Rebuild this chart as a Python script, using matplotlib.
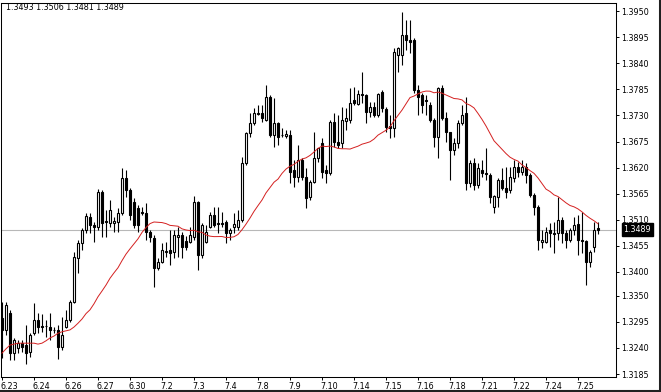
import numpy as np
import pandas as pd
import matplotlib
matplotlib.use('Agg')
import matplotlib.pyplot as plt
import matplotlib.transforms as mtransforms
from matplotlib.lines import Line2D

# 4h EURUSD-style bars
opens = [1.3303, 1.3278, 1.3314, 1.3229, 1.3240, 1.3250, 1.3246, 1.3231, 1.3271, 1.3299,
         1.3286, 1.3286, 1.3284, 1.3278, 1.3278, 1.3242, 1.3284, 1.3299, 1.3337, 1.3429,
         1.3461, 1.3489, 1.3516, 1.3499, 1.3495, 1.3569, 1.3507, 1.3503, 1.3503, 1.3505,
         1.3524, 1.3598, 1.3573, 1.3547, 1.3535, 1.3526, 1.3524, 1.3484, 1.3472, 1.3408,
         1.3421, 1.3442, 1.3446, 1.3442, 1.3474, 1.3478, 1.3465, 1.3463, 1.3474, 1.3547,
         1.3436, 1.3463, 1.3495, 1.3520, 1.3503, 1.3503, 1.3505, 1.3482, 1.3495, 1.3495,
         1.3510, 1.3630, 1.3693, 1.3714, 1.3735, 1.3735, 1.3720, 1.3769, 1.3689, 1.3714,
         1.3689, 1.3687, 1.3689, 1.3615, 1.3600, 1.3636, 1.3600, 1.3558, 1.3590, 1.3640,
         1.3672, 1.3615, 1.3609, 1.3716, 1.3674, 1.3672, 1.3718, 1.3720, 1.3762, 1.3754,
         1.3775, 1.3773, 1.3737, 1.3748, 1.3731, 1.3779, 1.3744, 1.3708, 1.3703, 1.3857,
         1.3857, 1.3899, 1.3889, 1.3889, 1.3784, 1.3773, 1.3762, 1.3752, 1.3720, 1.3685,
         1.3788, 1.3725, 1.3695, 1.3657, 1.3672, 1.3714, 1.3735, 1.3588, 1.3630, 1.3583,
         1.3615, 1.3609, 1.3604, 1.3537, 1.3558, 1.3594, 1.3577, 1.3573, 1.3598, 1.3621,
         1.3611, 1.3621, 1.3604, 1.3562, 1.3537, 1.3463, 1.3463, 1.3489, 1.3482, 1.3482,
         1.3510, 1.3482, 1.3467, 1.3489, 1.3501, 1.3467, 1.3465, 1.3421, 1.3453, 1.3493]
highs = [1.3337, 1.3337, 1.3320, 1.3261, 1.3257, 1.3257, 1.3288, 1.3271, 1.3335, 1.3314,
         1.3311, 1.3299, 1.3314, 1.3284, 1.3288, 1.3305, 1.3320, 1.3341, 1.3442, 1.3467,
         1.3493, 1.3524, 1.3524, 1.3505, 1.3575, 1.3573, 1.3531, 1.3552, 1.3516, 1.3535,
         1.3619, 1.3615, 1.3577, 1.3556, 1.3541, 1.3537, 1.3545, 1.3489, 1.3478, 1.3429,
         1.3461, 1.3463, 1.3489, 1.3489, 1.3495, 1.3484, 1.3476, 1.3495, 1.3560, 1.3550,
         1.3503, 1.3499, 1.3526, 1.3537, 1.3537, 1.3526, 1.3510, 1.3493, 1.3524, 1.3531,
         1.3642, 1.3695, 1.3735, 1.3746, 1.3752, 1.3752, 1.3794, 1.3773, 1.3767, 1.3716,
         1.3703, 1.3699, 1.3699, 1.3636, 1.3668, 1.3640, 1.3619, 1.3594, 1.3695, 1.3661,
         1.3682, 1.3625, 1.3720, 1.3735, 1.3731, 1.3748, 1.3746, 1.3788, 1.3790, 1.3784,
         1.3821, 1.3775, 1.3758, 1.3758, 1.3777, 1.3784, 1.3748, 1.3731, 1.3872, 1.3874,
         1.3948, 1.3931, 1.3931, 1.3893, 1.3794, 1.3777, 1.3773, 1.3758, 1.3725, 1.3790,
         1.3794, 1.3737, 1.3695, 1.3682, 1.3720, 1.3752, 1.3769, 1.3636, 1.3640, 1.3630,
         1.3636, 1.3661, 1.3609, 1.3562, 1.3598, 1.3619, 1.3621, 1.3621, 1.3636, 1.3632,
         1.3636, 1.3630, 1.3609, 1.3566, 1.3541, 1.3489, 1.3495, 1.3503, 1.3505, 1.3558,
         1.3516, 1.3489, 1.3493, 1.3516, 1.3520, 1.3526, 1.3467, 1.3446, 1.3505, 1.3506]
lows = [1.3219, 1.3267, 1.3215, 1.3215, 1.3229, 1.3231, 1.3206, 1.3221, 1.3267, 1.3271,
        1.3274, 1.3263, 1.3257, 1.3271, 1.3217, 1.3236, 1.3282, 1.3295, 1.3335, 1.3398,
        1.3446, 1.3482, 1.3482, 1.3463, 1.3489, 1.3474, 1.3474, 1.3495, 1.3484, 1.3484,
        1.3520, 1.3558, 1.3510, 1.3493, 1.3484, 1.3520, 1.3467, 1.3463, 1.3368, 1.3404,
        1.3419, 1.3432, 1.3415, 1.3429, 1.3432, 1.3429, 1.3446, 1.3461, 1.3467, 1.3404,
        1.3429, 1.3461, 1.3493, 1.3495, 1.3482, 1.3495, 1.3461, 1.3467, 1.3482, 1.3489,
        1.3505, 1.3625, 1.3685, 1.3710, 1.3731, 1.3716, 1.3718, 1.3685, 1.3663, 1.3668,
        1.3685, 1.3682, 1.3588, 1.3579, 1.3590, 1.3594, 1.3535, 1.3552, 1.3588, 1.3632,
        1.3598, 1.3588, 1.3604, 1.3663, 1.3661, 1.3661, 1.3699, 1.3714, 1.3752, 1.3752,
        1.3756, 1.3714, 1.3727, 1.3727, 1.3727, 1.3737, 1.3695, 1.3682, 1.3685, 1.3821,
        1.3836, 1.3868, 1.3862, 1.3777, 1.3731, 1.3735, 1.3731, 1.3716, 1.3663, 1.3640,
        1.3720, 1.3674, 1.3594, 1.3647, 1.3661, 1.3710, 1.3573, 1.3579, 1.3573, 1.3577,
        1.3600, 1.3594, 1.3545, 1.3524, 1.3537, 1.3573, 1.3556, 1.3566, 1.3590, 1.3600,
        1.3604, 1.3588, 1.3558, 1.3520, 1.3446, 1.3451, 1.3461, 1.3453, 1.3440, 1.3467,
        1.3461, 1.3451, 1.3463, 1.3478, 1.3436, 1.3440, 1.3373, 1.3411, 1.3442, 1.3481]
closes = [1.3278, 1.3330, 1.3229, 1.3257, 1.3250, 1.3242, 1.3229, 1.3267, 1.3299, 1.3284,
          1.3285, 1.3286, 1.3278, 1.3277, 1.3242, 1.3267, 1.3299, 1.3337, 1.3432, 1.3461,
          1.3489, 1.3518, 1.3499, 1.3495, 1.3569, 1.3503, 1.3505, 1.3531, 1.3507, 1.3524,
          1.3598, 1.3573, 1.3520, 1.3499, 1.3499, 1.3525, 1.3484, 1.3474, 1.3408, 1.3421,
          1.3446, 1.3444, 1.3440, 1.3478, 1.3478, 1.3453, 1.3453, 1.3478, 1.3547, 1.3436,
          1.3499, 1.3484, 1.3520, 1.3499, 1.3501, 1.3502, 1.3482, 1.3489, 1.3501, 1.3510,
          1.3630, 1.3693, 1.3714, 1.3735, 1.3734, 1.3725, 1.3769, 1.3689, 1.3714, 1.3685,
          1.3688, 1.3691, 1.3611, 1.3600, 1.3636, 1.3600, 1.3556, 1.3590, 1.3640, 1.3661,
          1.3611, 1.3609, 1.3716, 1.3674, 1.3668, 1.3720, 1.3725, 1.3756, 1.3756, 1.3775,
          1.3774, 1.3737, 1.3748, 1.3731, 1.3775, 1.3746, 1.3706, 1.3703, 1.3864, 1.3872,
          1.3899, 1.3889, 1.3885, 1.3784, 1.3769, 1.3752, 1.3761, 1.3720, 1.3685, 1.3788,
          1.3725, 1.3695, 1.3657, 1.3672, 1.3714, 1.3731, 1.3588, 1.3630, 1.3583, 1.3619,
          1.3609, 1.3607, 1.3558, 1.3560, 1.3594, 1.3577, 1.3569, 1.3600, 1.3621, 1.3611,
          1.3621, 1.3604, 1.3562, 1.3537, 1.3467, 1.3467, 1.3484, 1.3482, 1.3481, 1.3510,
          1.3482, 1.3467, 1.3489, 1.3499, 1.3467, 1.3465, 1.3421, 1.3442, 1.3489, 1.3489]

# MA values for the first 20 bars (its history lies left of the window)
ma_head = [1.3229, 1.3238, 1.3246, 1.3248, 1.3250, 1.3250, 1.3250, 1.3250, 1.3250, 1.3248,
           1.3250, 1.3255, 1.3261, 1.3265, 1.3271, 1.3274, 1.3276, 1.3278, 1.3284, 1.3292]
ma_period = 21

date_labels = ['6.23', '6.24', '6.26', '6.27', '6.30', '7.2', '7.3', '7.4', '7.8', '7.9',
               '7.10', '7.14', '7.15', '7.16', '7.18', '7.21', '7.22', '7.24', '7.25']
price_ticks = [1.3950, 1.3895, 1.3840, 1.3785, 1.3730, 1.3675, 1.3620, 1.3565,
               1.3510, 1.3455, 1.3400, 1.3350, 1.3295, 1.3240, 1.3185]
last_ohlc = [1.3493, 1.3506, 1.3481, 1.3489]

o = np.array(opens); h = np.array(highs); l = np.array(lows); c = np.array(closes)
x = np.arange(len(c))
ma = pd.Series(c).rolling(ma_period).mean().to_numpy()
ma[:len(ma_head)] = ma_head

W, H = 661, 392
fig = plt.figure(figsize=(W / 100, H / 100), dpi=100)
fig.patch.set_facecolor('white')
ax = fig.add_axes([1 / W, 15 / H, 615 / W, 374 / H])
ax.set_facecolor('white')

ax.axhline(last_ohlc[3], color='#b8b8b8', lw=0.8, zorder=1)

ax.vlines(x, l, h, color='black', lw=0.8, zorder=2)
up = c >= o
lo = np.minimum(o, c)
ht = np.abs(c - o)
ax.bar(x[up], ht[up], bottom=lo[up], width=0.5, facecolor='white',
       edgecolor='black', linewidth=0.8, zorder=3)
ax.bar(x[~up], ht[~up], bottom=lo[~up], width=0.5, facecolor='black',
       edgecolor='black', linewidth=0.8, zorder=3)

ax.plot(x, ma, color='#d42020', lw=0.7, zorder=4)

ax.set_xlim(-0.25, 153.5)
ax.set_ylim(1.31787, 1.39669)

for s in ax.spines.values():
    s.set_linewidth(0.75)
    s.set_color('black')

ax.yaxis.tick_right()
ax.set_yticks(price_ticks)
ax.set_yticklabels([f'{v:.4f}' for v in price_ticks])
ax.tick_params(axis='y', direction='out', length=2.2, width=0.7, pad=1.5,
               labelsize=5.8, colors='black')

ax.set_xticks(np.arange(0, len(c), 8)[:len(date_labels)])
ax.set_xticklabels(date_labels)
ax.tick_params(axis='x', direction='out', length=2.2, width=0.7, pad=1.5,
               labelsize=5.8, colors='black')
shift = mtransforms.ScaledTranslation(-1.5 / 100, 0, fig.dpi_scale_trans)
for lbl in ax.get_xticklabels():
    lbl.set_horizontalalignment('left')
    lbl.set_transform(lbl.get_transform() + shift)

# current price tag on the price scale
ax.annotate(f'{last_ohlc[3]:.4f}', xy=(1, last_ohlc[3]),
            xycoords=('axes fraction', 'data'), xytext=(5.5, 0),
            textcoords='offset points', va='center', ha='left',
            fontsize=5.8, color='white',
            bbox=dict(boxstyle='square,pad=0.25', fc='black', ec='black'))

fig.text(6 / W, 1 - 2.5 / H, ' '.join(f'{v:.4f}' for v in last_ohlc),
         fontsize=5.8, va='top', ha='left', color='black')

# dark window edge on the right and bottom of the screenshot
fig.add_artist(Line2D([1 - 1.5 / W, 1 - 1.5 / W], [0, 1], color='#202020', lw=2.2,
                      transform=fig.transFigure))
fig.add_artist(Line2D([0, 1], [1 / H, 1 / H], color='#202020', lw=1.5,
                      transform=fig.transFigure))

fig.savefig('out.png', dpi=100)
